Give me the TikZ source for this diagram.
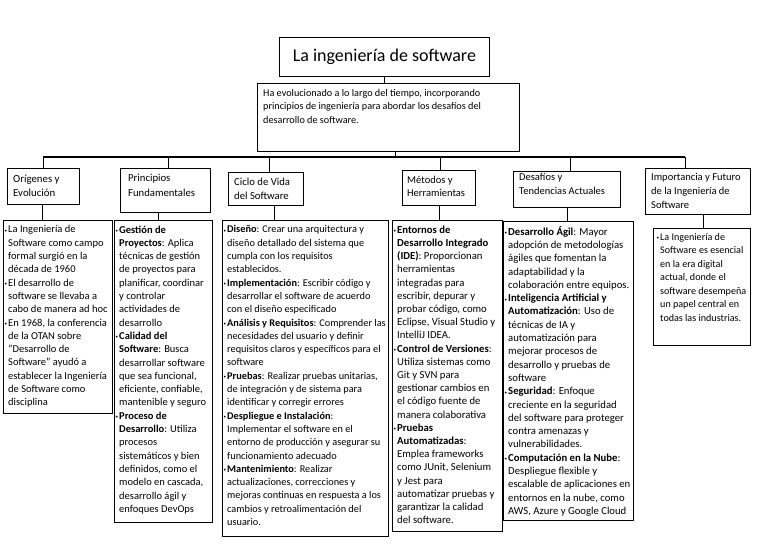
\documentclass[tikz,border=0pt]{standalone}
\usepackage{fontspec}
\setmainfont{Carlito}
\newcommand\bu{\llap{\fontsize{5}{5}\selectfont\raisebox{0.6pt}{•}\hspace{1.2pt}}}
\newcommand\fs[2]{\fontsize{#1}{#2}\selectfont}
\begin{document}
\begin{tikzpicture}[x=1pt,y=-1pt,
  box/.style={draw, line width=0.8pt, inner sep=0pt, anchor=north west},
  txt/.style={anchor=north west, inner sep=0pt, align=left},
  conn/.style={line width=1.3pt}]
\useasboundingbox[fill=white] (0,0) rectangle (768,544);
% title and description
\node[box, minimum width=210pt, minimum height=39pt, font=\fs{18}{22}] (title) at (279,37) {La ingeniería de software};
\node[box, minimum width=262pt, minimum height=68pt] (desc) at (257,83) {};
\node[txt, font=\fs{10.2}{13.2}] (desct) at (263,89.5) {Ha evolucionado a lo largo del tiempo, incorporando\\principios de ingeniería para abordar los desafíos del\\desarrollo de software.};
% headers
\node[box, minimum width=72pt, minimum height=36pt] (h1) at (7,168) {};
\node[txt, font=\fs{10.8}{14.5}] (h1t) at (13,174.5) {Orígenes y\\Evolución};
\node[box, minimum width=90pt, minimum height=44pt] (h2) at (120,168) {};
\node[txt, font=\fs{10.7}{14.5}] (h2t) at (128,174) {Principios\\Fundamentales};
\node[box, minimum width=75pt, minimum height=33pt] (h3) at (228,172) {};
\node[txt, font=\fs{10.7}{14.5}] (h3t) at (234,177.5) {Ciclo de Vida\\del Software};
\node[box, minimum width=73pt, minimum height=35pt] (h4) at (402,170) {};
\node[txt, font=\fs{10.5}{13}] (h4t) at (407,176.5) {Métodos y\\Herramientas};
\node[box, minimum width=107pt, minimum height=36pt] (h5) at (513,171) {};
\node[txt, font=\fs{10.5}{14}] (h5t) at (519,173.5) {Desafíos y\\Tendencias Actuales};
\node[box, minimum width=105pt, minimum height=46pt] (h6) at (645,168) {};
\node[txt, font=\fs{10.5}{14}] (h6t) at (651,173) {Importancia y Futuro\\de la Ingeniería de\\Software};
% detail boxes
\node[box, minimum width=109pt, minimum height=193pt] (d1) at (3,220) {};
\node[txt, font=\fs{10.5}{13.3}] (d1t) at (8,225.5) {\bu La Ingeniería de\\Software como campo\\formal surgió en la\\década de 1960\\\bu El desarrollo de\\software se llevaba a\\cabo de manera ad hoc\\\bu En 1968, la conferencia\\de la OTAN sobre\\"Desarrollo de\\Software" ayudó a\\establecer la Ingeniería\\de Software como\\disciplina};
\node[box, minimum width=98pt, minimum height=302pt] (d2) at (114,220) {};
\node[txt, font=\fs{10.5}{13.3}] (d2t) at (119,225.5) {\bu\textbf{Gestión de}\\\textbf{Proyectos}: Aplica\\técnicas de gestión\\de proyectos para\\planificar, coordinar\\y controlar\\actividades de\\desarrollo\\\bu\textbf{Calidad del}\\\textbf{Software}: Busca\\desarrollar software\\que sea funcional,\\eficiente, confiable,\\mantenible y seguro\\\bu\textbf{Proceso de}\\\textbf{Desarrollo}: Utiliza\\procesos\\sistemáticos y bien\\definidos, como el\\modelo en cascada,\\desarrollo ágil y\\enfoques DevOps};
\node[box, minimum width=166pt, minimum height=316pt] (d3) at (222,220) {};
\node[txt, font=\fs{10.3}{13.3}] (d3t) at (227,225.5) {\bu\textbf{Diseño}: Crear una arquitectura y\\diseño detallado del sistema que\\cumpla con los requisitos\\establecidos.\\\bu\textbf{Implementación}: Escribir código y\\desarrollar el software de acuerdo\\con el diseño especificado\\\bu\textbf{Análisis y Requisitos}: Comprender las\\necesidades del usuario y definir\\requisitos claros y específicos para el\\software\\\bu\textbf{Pruebas}: Realizar pruebas unitarias,\\de integración y de sistema para\\identificar y corregir errores\\\bu\textbf{Despliegue e Instalación}:\\Implementar el software en el\\entorno de producción y asegurar su\\funcionamiento adecuado\\\bu\textbf{Mantenimiento}: Realizar\\actualizaciones, correcciones y\\mejoras continuas en respuesta a los\\cambios y retroalimentación del\\usuario.};
\node[box, minimum width=110pt, minimum height=311pt] (d4) at (392,220) {};
\node[txt, font=\fs{10.7}{13.2}] (d4t) at (397,225.5) {\bu\textbf{Entornos de}\\\textbf{Desarrollo Integrado}\\\textbf{(IDE)}: Proporcionan\\herramientas\\integradas para\\escribir, depurar y\\probar código, como\\Eclipse, Visual Studio y\\IntelliJ IDEA.\\\bu\textbf{Control de Versiones}:\\Utiliza sistemas como\\Git y SVN para\\gestionar cambios en\\el código fuente de\\manera colaborativa\\\bu\textbf{Pruebas}\\\textbf{Automatizadas}:\\Emplea frameworks\\como JUnit, Selenium\\y Jest para\\automatizar pruebas y\\garantizar la calidad\\del software.};
\node[box, minimum width=130pt, minimum height=299pt] (d5) at (503,221) {};
\node[txt, font=\fs{10.7}{13.3}] (d5t) at (508,226) {\bu\textbf{Desarrollo Ágil}: Mayor\\adopción de metodologías\\ágiles que fomentan la\\adaptabilidad y la\\colaboración entre equipos.\\\bu\textbf{Inteligencia Artificial y}\\\textbf{Automatización}: Uso de\\técnicas de IA y\\automatización para\\mejorar procesos de\\desarrollo y pruebas de\\software\\\bu\textbf{Seguridad}: Enfoque\\creciente en la seguridad\\del software para proteger\\contra amenazas y\\vulnerabilidades.\\\bu\textbf{Computación en la Nube}:\\Despliegue flexible y\\escalable de aplicaciones en\\entornos en la nube, como\\AWS, Azure y Google Cloud};
\node[box, minimum width=97pt, minimum height=117pt] (d6) at (653,228) {};
\node[txt, font=\fs{10.1}{13.5}] (d6t) at (660,233) {\bu La Ingeniería de\\Software es esencial\\en la era digital\\actual, donde el\\software desempeña\\un papel central en\\todas las industrias.};
% connectors
\coordinate (bus) at (0,157);
\draw[conn] (title.south) -- (title.south |- desc.north);
\draw[conn] ([xshift=7pt]desc.south) -- ([xshift=7pt]desc.south |- bus);
\draw[conn] (h1.north |- bus) -- ([xshift=-12.5pt]h6.north |- bus);
\draw[conn] (h1.north |- bus) -- (h1.north);
\draw[conn] ([xshift=3pt]h2.north |- bus) -- ([xshift=3pt]h2.north);
\draw[conn] ([xshift=3.5pt]h3.north |- bus) -- ([xshift=3.5pt]h3.north);
\draw[conn] ([xshift=1.5pt]h4.north |- bus) -- ([xshift=1.5pt]h4.north);
\draw[conn] ([xshift=3.5pt]h5.north |- bus) -- ([xshift=3.5pt]h5.north);
\draw[conn] ([xshift=-12.5pt]h6.north |- bus) -- ([xshift=-12.5pt]h6.north);
\draw[conn] ([xshift=-1pt]h1.south) -- ([xshift=-1pt]h1.south |- d1.north);
\draw[conn] ([xshift=-7pt]h2.south) -- ([xshift=-7pt]h2.south |- d2.north);
\draw[conn] ([xshift=8.5pt]h3.south) -- ([xshift=8.5pt]h3.south |- d3.north);
\draw[conn] ([xshift=0.5pt]h4.south) -- ([xshift=0.5pt]h4.south |- d4.north);
\draw[conn] ([xshift=0.5pt]h5.south) -- ([xshift=0.5pt]h5.south |- d5.north);
\draw[conn] ([xshift=5.5pt]h6.south) -- ([xshift=5.5pt]h6.south |- d6.north);
\end{tikzpicture}
\end{document}
